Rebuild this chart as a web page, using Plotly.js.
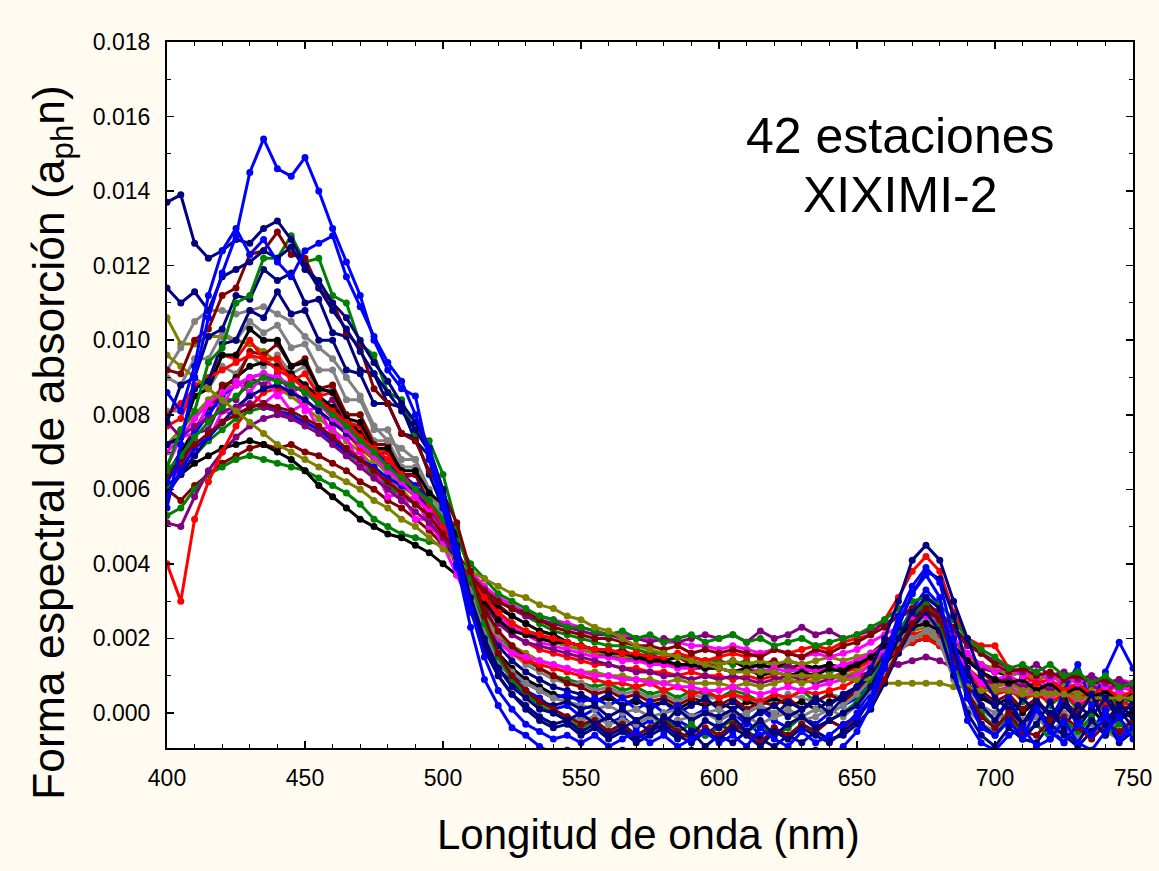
<!DOCTYPE html>
<html>
<head>
<meta charset="utf-8">
<script src="https://cdn.plot.ly/plotly-3.0.1.min.js"></script>
<style>html,body{margin:0;padding:0;background:#FFFBF0;}#chart{width:1159px;height:871px;}</style>
</head>
<body>
<div id="chart"></div>
<script>
// Wavelength grid (nm)
const wavelength = [400,405,410,415,420,425,430,435,440,445,450,455,460,465,470,475,480,485,490,495,500,505,510,515,520,525,530,535,540,545,550,555,560,565,570,575,580,585,590,595,600,605,610,615,620,625,630,635,640,645,650,655,660,665,670,675,680,685,690,695,700,705,710,715,720,725,730,735,740,745,750];

// Spectral shapes of absorption (a_ph n), one array per station
const b1 = [.0055,.0072,.0090,.0106,.0118,.0128,.0145,.0154,.0146,.0144, .0149,.0140,.0130,.0121,.0112,.0100,.0092,.0087,.0085,.0068, .0055,.0040,.0023,.0009,.0002,-.0004,-.0006,-.0009,-.0011,-.0010, -.0012,-.0011,-.0013,-.0010,-.0012,-.0011,-.0013,-.0012,-.0010,-.0012, -.0011,-.0013,-.0010,-.0012,-.0011,-.0013,-.0012,-.0010,-.0012,-.0009, -.0005,.0002,.0012,.0024,.0032,.0037,.0031,.0012,-.0002,-.0008, -.0010,-.0006,-.0004,-.0009,-.0007,-.0002,-.0008,-.0010,-.0005,-.0001, -.0007];
const b2 = [.0086,.0081,.0093,.0112,.0124,.0130,.0123,.0127,.0121,.0117, .0124,.0126,.0128,.0117,.0109,.0101,.0094,.0089,.0080,.0071, .0058,.0044,.0028,.0015,.0006,.0001,-.0003,-.0005,-.0007,-.0006, -.0008,-.0006,-.0009,-.0007,-.0005,-.0008,-.0006,-.0009,-.0007,-.0005, -.0008,-.0006,-.0009,-.0004,-.0007,-.0009,-.0005,-.0008,-.0006,-.0003, -.0001,.0004,.0015,.0026,.0034,.0039,.0035,.0020,.0004,-.0004, -.0006,-.0002,-.0007,.0001,-.0005,-.0008,-.0003,-.0006,-.0001,-.0007, -.0004];
const b3 = [.0062,.0068,.0075,.0080,.0085,.0088,.0090,.0091,.0089,.0088, .0086,.0083,.0080,.0077,.0073,.0070,.0067,.0064,.0061,.0057, .0050,.0039,.0027,.0019,.0013,.0010,.0008,.0006,.0004,.0005, .0003,.0004,.0002,.0004,.0001,.0003,.0000,.0002,-.0001,.0001, -.0002,.0000,-.0003,.0001,-.0002,-.0004,-.0001,-.0003,.0000,.0002, .0004,.0008,.0014,.0021,.0028,.0033,.0029,.0018,.0008,.0002, -.0002,.0004,-.0003,.0002,-.0004,.0006,.0013,.0002,.0011,.0019, .0012];
const b4 = [.0058,.0065,.0071,.0074,.0078,.0080,.0082,.0083,.0081,.0080, .0078,.0076,.0073,.0070,.0068,.0066,.0063,.0061,.0059,.0056, .0049,.0040,.0030,.0022,.0015,.0010,.0006,.0004,.0001,.0002, -.0001,.0001,-.0003,-.0001,-.0004,-.0002,-.0005,-.0002,-.0004,-.0006, -.0003,-.0005,-.0002,-.0006,-.0004,-.0007,-.0003,-.0005,-.0002,-.0004, .0000,.0006,.0013,.0021,.0027,.0030,.0026,.0014,.0004,-.0003, -.0005,-.0001,-.0006,.0002,-.0004,-.0008,-.0002,-.0005,.0001,-.0006, -.0003];
const n1 = [.0137,.0139,.0126,.0122,.0124,.0127,.0126,.0130,.0132,.0127, .0120,.0114,.0108,.0103,.0097,.0091,.0086,.0081,.0076,.0070, .0058,.0043,.0029,.0018,.0010,.0005,.0002,-.0001,-.0003,-.0002, -.0005,-.0003,-.0006,-.0004,-.0007,-.0005,-.0003,-.0006,-.0008,-.0005, -.0007,-.0004,-.0006,-.0009,-.0005,-.0007,-.0004,-.0006,-.0008,-.0005, -.0002,.0004,.0012,.0020,.0027,.0031,.0028,.0017,.0005,-.0003, -.0006,-.0002,-.0007,-.0003,.0003,-.0005,-.0008,-.0002,-.0006,.0001, -.0004];
const n2 = [.0114,.0110,.0113,.0108,.0117,.0119,.0121,.0124,.0122,.0125, .0119,.0116,.0110,.0106,.0100,.0094,.0089,.0083,.0078,.0071, .0060,.0045,.0031,.0020,.0012,.0007,.0004,.0001,.0000,-.0002, .0000,-.0003,-.0001,-.0004,-.0002,-.0005,-.0001,-.0003,-.0006,-.0002, -.0004,-.0001,-.0005,-.0002,-.0006,-.0003,-.0001,-.0004,-.0002,.0000, .0002,.0007,.0014,.0023,.0032,.0038,.0036,.0026,.0012,.0002, -.0002,.0003,-.0003,.0001,-.0004,.0002,-.0001,.0005,-.0003,.0002, -.0001];
const n3 = [.0078,.0088,.0090,.0101,.0103,.0112,.0111,.0119,.0116,.0118, .0110,.0111,.0102,.0101,.0092,.0091,.0083,.0082,.0073,.0069, .0056,.0042,.0028,.0017,.0010,.0005,.0001,-.0002,-.0004,-.0003, -.0006,-.0004,-.0007,-.0005,-.0008,-.0006,-.0004,-.0007,-.0005,-.0009, -.0006,-.0008,-.0005,-.0007,-.0009,-.0006,-.0008,-.0005,-.0007,-.0006, -.0003,.0001,.0008,.0016,.0023,.0027,.0022,.0010,.0000,-.0006, -.0009,-.0004,-.0007,-.0008,-.0003,-.0006,-.0009,-.0005,-.0002,-.0008, -.0005];
const n4 = [.0072,.0074,.0087,.0089,.0099,.0100,.0108,.0106,.0113,.0107, .0108,.0100,.0100,.0092,.0091,.0083,.0083,.0075,.0074,.0064, .0055,.0042,.0029,.0019,.0012,.0008,.0005,.0003,.0002,.0003, .0001,.0002,-.0001,.0001,-.0002,.0000,-.0003,.0001,-.0002,.0000, -.0001,.0001,-.0002,.0000,.0002,-.0001,.0001,.0003,.0000,.0004, .0007,.0012,.0020,.0030,.0041,.0045,.0041,.0030,.0020,.0010, .0004,.0001,-.0003,.0003,.0000,-.0004,.0002,-.0001,.0004,-.0002, .0001];
const n5 = [.0059,.0064,.0069,.0074,.0078,.0082,.0085,.0087,.0088,.0086, .0084,.0081,.0078,.0075,.0072,.0069,.0066,.0063,.0059,.0055, .0048,.0040,.0031,.0024,.0018,.0014,.0011,.0009,.0007,.0006, .0005,.0003,.0005,.0002,.0004,.0001,.0003,.0000,.0002,.0004, .0001,.0003,.0000,.0002,-.0001,.0003,.0001,.0004,.0002,.0005, .0007,.0010,.0015,.0020,.0025,.0028,.0025,.0017,.0010,.0005, .0002,-.0003,.0004,.0000,-.0002,.0005,-.0004,.0001,.0006,-.0001, .0003];
const dr1 = [.0092,.0091,.0100,.0103,.0112,.0114,.0123,.0124,.0129,.0123, .0122,.0114,.0110,.0102,.0098,.0087,.0083,.0075,.0073,.0065, .0059,.0051,.0038,.0026,.0016,.0010,.0006,.0003,.0001,-.0001, -.0003,-.0002,-.0005,-.0003,-.0006,-.0004,-.0002,-.0005,-.0007,-.0004, -.0006,-.0003,-.0005,-.0008,-.0004,-.0006,-.0003,-.0005,-.0002,-.0004, -.0001,.0003,.0009,.0017,.0024,.0028,.0025,.0015,.0006,-.0001, -.0004,.0000,-.0005,-.0006,-.0002,-.0001,-.0004,-.0007,-.0003,-.0005, -.0002];
const dr2 = [.0064,.0066,.0077,.0079,.0088,.0089,.0097,.0096,.0099,.0093, .0095,.0087,.0088,.0080,.0080,.0072,.0072,.0064,.0064,.0056, .0051,.0043,.0035,.0028,.0022,.0018,.0015,.0012,.0010,.0008, .0007,.0005,.0006,.0004,.0005,.0003,.0004,.0002,.0004,.0003, .0002,.0004,.0001,.0003,.0002,.0004,.0001,.0003,.0005,.0003, .0006,.0010,.0016,.0022,.0027,.0029,.0026,.0018,.0011,.0006, .0003,.0005,.0001,.0004,-.0001,.0003,.0000,.0004,-.0002,.0002, .0001];
const dr3 = [.0064,.0068,.0072,.0075,.0078,.0080,.0082,.0083,.0082,.0081, .0079,.0077,.0074,.0071,.0068,.0065,.0062,.0059,.0056,.0053, .0048,.0043,.0037,.0033,.0030,.0028,.0027,.0025,.0023,.0022, .0021,.0020,.0020,.0019,.0018,.0018,.0017,.0018,.0016,.0017, .0016,.0017,.0016,.0015,.0017,.0016,.0015,.0017,.0016,.0018, .0019,.0021,.0023,.0026,.0028,.0029,.0027,.0023,.0019,.0016, .0013,.0011,.0012,.0010,.0011,.0009,.0010,.0008,.0009,.0007, .0008];
const dr4 = [.0060,.0057,.0061,.0064,.0067,.0069,.0071,.0072,.0071,.0072, .0070,.0069,.0067,.0065,.0062,.0060,.0057,.0055,.0052,.0049, .0045,.0041,.0036,.0032,.0029,.0026,.0024,.0022,.0021,.0019, .0018,.0017,.0016,.0017,.0015,.0016,.0014,.0015,.0013,.0014, .0013,.0014,.0012,.0013,.0014,.0012,.0013,.0011,.0013,.0012, .0014,.0016,.0019,.0022,.0025,.0027,.0025,.0020,.0015,.0011, .0008,.0010,.0006,.0008,.0004,.0007,.0003,.0006,.0002,.0005, .0003];
const g1 = [.0066,.0076,.0081,.0094,.0098,.0110,.0112,.0122,.0122,.0128, .0121,.0122,.0112,.0110,.0099,.0096,.0086,.0084,.0075,.0073, .0064,.0050,.0036,.0024,.0015,.0009,.0005,.0002,.0000,-.0002, -.0004,-.0002,-.0005,-.0003,-.0006,-.0004,-.0001,-.0005,-.0003,-.0006, -.0004,-.0002,-.0005,-.0003,-.0006,-.0004,-.0001,-.0004,-.0002,.0000, .0003,.0008,.0015,.0022,.0027,.0029,.0024,.0014,.0005,.0000, -.0004,-.0001,-.0006,-.0003,-.0007,-.0002,-.0005,-.0001,-.0006,-.0003, -.0005];
const g2 = [.0065,.0069,.0074,.0078,.0082,.0085,.0088,.0090,.0089,.0088, .0086,.0083,.0080,.0077,.0073,.0070,.0066,.0063,.0060,.0057, .0052,.0046,.0040,.0036,.0032,.0030,.0028,.0026,.0025,.0023, .0023,.0022,.0021,.0022,.0020,.0021,.0019,.0020,.0021,.0019, .0020,.0021,.0019,.0020,.0018,.0019,.0020,.0018,.0019,.0020, .0021,.0023,.0025,.0028,.0030,.0031,.0029,.0025,.0020,.0017, .0015,.0012,.0013,.0011,.0013,.0010,.0011,.0008,.0010,.0007, .0008];
const g3 = [.0053,.0055,.0060,.0064,.0066,.0068,.0069,.0068,.0067,.0066, .0065,.0063,.0061,.0059,.0056,.0052,.0050,.0048,.0047,.0046, .0045,.0041,.0037,.0033,.0030,.0028,.0026,.0024,.0022,.0021, .0020,.0019,.0018,.0018,.0017,.0016,.0016,.0015,.0015,.0014, .0014,.0013,.0014,.0012,.0013,.0012,.0011,.0012,.0011,.0012, .0013,.0015,.0018,.0021,.0024,.0025,.0023,.0018,.0014,.0011, .0009,.0007,.0008,.0005,.0007,.0004,.0006,.0003,.0005,.0002, .0004];
const g4 = [.0060,.0064,.0069,.0073,.0076,.0079,.0081,.0082,.0081,.0080, .0078,.0076,.0073,.0070,.0067,.0064,.0061,.0058,.0056,.0053, .0048,.0041,.0034,.0027,.0021,.0017,.0014,.0012,.0010,.0009, .0008,.0007,.0008,.0006,.0007,.0005,.0006,.0004,.0006,.0005, .0004,.0006,.0005,.0003,.0005,.0004,.0006,.0003,.0005,.0004, .0007,.0011,.0016,.0022,.0026,.0028,.0025,.0018,.0012,.0008, .0005,.0007,.0003,.0006,.0002,.0005,.0001,.0004,.0000,.0003, .0002];
const gr1 = [.0092,.0098,.0105,.0108,.0108,.0107,.0108,.0109,.0107,.0105, .0101,.0098,.0095,.0090,.0085,.0077,.0073,.0071,.0068,.0060, .0054,.0044,.0032,.0022,.0015,.0011,.0008,.0006,.0004,.0003, .0002,.0001,.0002,.0000,.0001,-.0001,.0000,.0001,-.0001,.0000, .0001,-.0001,.0000,.0002,.0000,.0001,-.0001,.0001,.0000,.0002, .0005,.0009,.0014,.0019,.0023,.0024,.0019,.0009,.0001,-.0003, -.0005,-.0002,-.0006,-.0003,-.0007,-.0004,-.0006,-.0002,-.0005,-.0007, -.0004];
const gr2 = [.0090,.0088,.0095,.0095,.0102,.0100,.0105,.0102,.0104,.0098, .0099,.0092,.0092,.0084,.0084,.0076,.0076,.0068,.0068,.0059, .0053,.0043,.0031,.0021,.0014,.0009,.0005,.0002,.0000,-.0001, -.0002,-.0001,-.0003,-.0002,-.0003,-.0001,-.0003,-.0002,-.0001,.0000, -.0002,.0000,-.0001,-.0003,-.0001,.0000,-.0002,-.0001,.0001,-.0001, .0002,.0006,.0011,.0016,.0020,.0022,.0019,.0012,.0005,.0001, -.0002,.0000,-.0004,-.0001,-.0005,-.0002,-.0006,-.0003,-.0005,-.0002, -.0004];
const gr3 = [.0081,.0081,.0088,.0087,.0093,.0091,.0096,.0093,.0096,.0091, .0093,.0086,.0087,.0080,.0080,.0073,.0073,.0066,.0066,.0057, .0052,.0043,.0034,.0026,.0020,.0016,.0013,.0011,.0009,.0008, .0008,.0006,.0007,.0005,.0006,.0004,.0005,.0003,.0005,.0004, .0004,.0005,.0003,.0004,.0003,.0005,.0004,.0003,.0005,.0004, .0006,.0010,.0015,.0020,.0024,.0025,.0022,.0014,.0007,.0002, .0000,.0002,-.0002,.0001,-.0003,.0000,-.0002,.0001,-.0003,.0000, -.0001];
const k1 = [.0072,.0074,.0085,.0087,.0096,.0096,.0103,.0100,.0100,.0093, .0094,.0087,.0086,.0079,.0078,.0071,.0071,.0065,.0065,.0059, .0056,.0048,.0038,.0030,.0025,.0022,.0021,.0020,.0019,.0019, .0018,.0017,.0016,.0016,.0015,.0014,.0014,.0013,.0013,.0012, .0012,.0011,.0012,.0010,.0011,.0010,.0011,.0010,.0012,.0011, .0013,.0015,.0018,.0021,.0023,.0024,.0022,.0018,.0014,.0011, .0009,.0008,.0009,.0006,.0008,.0005,.0007,.0004,.0006,.0003, .0005];
const k2 = [.0064,.0070,.0076,.0082,.0087,.0090,.0093,.0094,.0093,.0091, .0088,.0085,.0082,.0079,.0075,.0071,.0067,.0064,.0060,.0056, .0049,.0040,.0030,.0022,.0016,.0012,.0009,.0007,.0005,.0004, .0004,.0003,.0004,.0002,.0003,.0002,.0003,.0001,.0003,.0002, .0003,.0001,.0003,.0002,.0004,.0002,.0003,.0001,.0003,.0004, .0006,.0009,.0013,.0017,.0019,.0020,.0018,.0013,.0008,.0004, .0002,.0004,.0000,.0003,-.0001,.0002,-.0002,.0001,-.0003,.0000, -.0001];
const k3 = [.0061,.0064,.0067,.0069,.0071,.0072,.0073,.0072,.0070,.0068, .0065,.0061,.0058,.0055,.0052,.0050,.0048,.0047,.0045,.0043, .0040,.0037,.0034,.0031,.0028,.0026,.0024,.0022,.0021,.0019, .0018,.0017,.0016,.0016,.0015,.0015,.0014,.0015,.0014,.0013, .0013,.0014,.0012,.0013,.0012,.0014,.0013,.0012,.0013,.0012, .0013,.0014,.0016,.0018,.0019,.0020,.0019,.0017,.0015,.0013, .0011,.0010,.0011,.0009,.0010,.0008,.0009,.0007,.0009,.0006, .0008];
const r1 = [.0077,.0079,.0088,.0089,.0096,.0095,.0100,.0095,.0095,.0089, .0091,.0085,.0086,.0078,.0077,.0071,.0070,.0061,.0059,.0053, .0048,.0039,.0030,.0024,.0019,.0016,.0014,.0013,.0012,.0011, .0010,.0009,.0008,.0008,.0007,.0008,.0006,.0007,.0005,.0006, .0004,.0005,.0004,.0003,.0005,.0004,.0006,.0005,.0006,.0007, .0009,.0011,.0014,.0017,.0019,.0020,.0018,.0014,.0010,.0007, .0005,.0006,.0004,.0005,.0003,.0005,.0002,.0004,.0001,.0003, .0002];
const r2 = [.0040,.0030,.0052,.0062,.0070,.0077,.0082,.0086,.0087,.0086, .0084,.0081,.0078,.0075,.0071,.0068,.0065,.0062,.0058,.0055, .0049,.0043,.0036,.0030,.0025,.0021,.0019,.0017,.0016,.0015, .0014,.0013,.0013,.0012,.0012,.0011,.0011,.0010,.0011,.0010, .0010,.0009,.0010,.0009,.0010,.0008,.0009,.0010,.0009,.0011, .0012,.0014,.0016,.0019,.0021,.0022,.0020,.0016,.0012,.0009, .0007,.0008,.0006,.0007,.0005,.0006,.0004,.0006,.0003,.0005, .0004];
const r3 = [.0080,.0083,.0087,.0090,.0092,.0094,.0096,.0095,.0092,.0090, .0087,.0084,.0081,.0078,.0074,.0071,.0068,.0064,.0060,.0056, .0050,.0043,.0036,.0031,.0027,.0024,.0022,.0021,.0020,.0019, .0018,.0017,.0017,.0016,.0016,.0015,.0015,.0016,.0015,.0014, .0015,.0016,.0015,.0016,.0017,.0016,.0017,.0018,.0017,.0019, .0020,.0021,.0025,.0031,.0038,.0042,.0038,.0027,.0020,.0018, .0018,.0012,.0010,.0008,.0009,.0006,.0008,.0005,.0007,.0004, .0006];
const m1 = [.0070,.0074,.0079,.0083,.0086,.0088,.0090,.0091,.0090,.0088, .0086,.0083,.0079,.0076,.0072,.0069,.0065,.0062,.0058,.0054, .0048,.0042,.0038,.0034,.0031,.0029,.0027,.0026,.0025,.0024, .0023,.0022,.0021,.0021,.0020,.0020,.0019,.0019,.0018,.0018, .0017,.0018,.0017,.0016,.0017,.0016,.0015,.0016,.0015,.0016, .0017,.0019,.0021,.0023,.0025,.0026,.0024,.0020,.0016,.0013, .0011,.0012,.0010,.0011,.0009,.0010,.0008,.0010,.0007,.0009, .0008];
const m2 = [.0066,.0074,.0075,.0083,.0082,.0089,.0086,.0091,.0085,.0088, .0081,.0082,.0074,.0074,.0066,.0066,.0058,.0059,.0052,.0052, .0045,.0037,.0029,.0023,.0019,.0016,.0015,.0014,.0013,.0012, .0011,.0010,.0010,.0009,.0009,.0008,.0008,.0007,.0007,.0006, .0006,.0007,.0006,.0005,.0006,.0007,.0006,.0007,.0008,.0009, .0010,.0013,.0017,.0021,.0023,.0024,.0022,.0017,.0012,.0008, .0006,.0007,.0005,.0006,.0004,.0006,.0003,.0005,.0004,.0006, .0004];
const m3 = [.0064,.0064,.0073,.0073,.0081,.0080,.0086,.0083,.0086,.0081, .0083,.0076,.0077,.0069,.0070,.0063,.0064,.0057,.0058,.0050, .0047,.0041,.0035,.0030,.0026,.0023,.0021,.0019,.0018,.0017, .0016,.0015,.0015,.0014,.0014,.0013,.0013,.0012,.0012,.0013, .0012,.0011,.0012,.0011,.0012,.0011,.0012,.0011,.0012,.0013, .0014,.0016,.0018,.0021,.0023,.0024,.0022,.0018,.0014,.0011, .0009,.0010,.0008,.0009,.0007,.0009,.0006,.0008,.0006,.0007, .0006];
const p1 = [.0064,.0065,.0075,.0076,.0084,.0084,.0090,.0088,.0091,.0086, .0088,.0082,.0084,.0077,.0077,.0069,.0070,.0063,.0064,.0056, .0051,.0043,.0035,.0029,.0024,.0021,.0019,.0018,.0017,.0016, .0015,.0014,.0013,.0012,.0011,.0011,.0010,.0010,.0009,.0010, .0009,.0010,.0009,.0008,.0009,.0010,.0009,.0008,.0009,.0010, .0010,.0011,.0012,.0013,.0014,.0015,.0014,.0012,.0010,.0009, .0008,.0009,.0007,.0008,.0006,.0008,.0005,.0007,.0006,.0008, .0007];
const p2 = [.0078,.0074,.0077,.0079,.0081,.0082,.0083,.0082,.0081,.0079, .0077,.0075,.0072,.0069,.0066,.0063,.0060,.0057,.0054,.0051, .0047,.0042,.0037,.0033,.0030,.0028,.0026,.0025,.0024,.0023, .0022,.0021,.0021,.0020,.0020,.0019,.0020,.0019,.0020,.0021, .0020,.0021,.0019,.0022,.0020,.0021,.0023,.0021,.0022,.0020, .0021,.0022,.0024,.0026,.0027,.0028,.0026,.0022,.0018,.0016, .0014,.0012,.0011,.0013,.0010,.0011,.0009,.0010,.0008,.0009, .0007];
const p3 = [.0051,.0050,.0058,.0065,.0070,.0074,.0077,.0079,.0080,.0079, .0078,.0076,.0074,.0071,.0068,.0065,.0062,.0059,.0056,.0053, .0048,.0042,.0036,.0031,.0027,.0024,.0022,.0020,.0019,.0018, .0017,.0016,.0015,.0015,.0014,.0014,.0013,.0013,.0012,.0012, .0012,.0011,.0012,.0011,.0012,.0013,.0011,.0012,.0013,.0012, .0013,.0014,.0016,.0018,.0019,.0020,.0019,.0016,.0014,.0012, .0011,.0012,.0010,.0011,.0009,.0010,.0008,.0009,.0007,.0008, .0007];
const o1 = [.0096,.0093,.0090,.0087,.0084,.0081,.0078,.0075,.0072,.0070, .0068,.0066,.0064,.0062,.0060,.0057,.0055,.0052,.0050,.0047, .0044,.0041,.0038,.0036,.0034,.0032,.0031,.0029,.0028,.0026, .0025,.0023,.0022,.0020,.0018,.0017,.0016,.0015,.0014,.0013, .0012,.0011,.0011,.0011,.0011,.0010,.0010,.0010,.0010,.0009, .0009,.0009,.0008,.0008,.0008,.0008,.0008,.0007,.0007,.0006, .0006,.0006,.0005,.0005,.0005,.0005,.0004,.0004,.0004,.0004, .0004];
const o2 = [.0106,.0099,.0099,.0101,.0101,.0100,.0099,.0097,.0094,.0091, .0088,.0084,.0080,.0076,.0072,.0068,.0064,.0061,.0058,.0054, .0047,.0040,.0032,.0026,.0021,.0018,.0016,.0014,.0013,.0012, .0011,.0011,.0010,.0010,.0009,.0009,.0008,.0009,.0008,.0008, .0008,.0007,.0008,.0007,.0008,.0009,.0008,.0009,.0010,.0010, .0011,.0013,.0015,.0018,.0020,.0021,.0019,.0015,.0011,.0008, .0007,.0008,.0006,.0007,.0005,.0007,.0005,.0006,.0004,.0005, .0004];
const o3 = [.0072,.0076,.0080,.0084,.0087,.0088,.0089,.0088,.0087,.0085, .0082,.0079,.0076,.0073,.0070,.0066,.0063,.0060,.0056,.0053, .0047,.0041,.0035,.0030,.0027,.0024,.0022,.0021,.0019,.0018, .0017,.0016,.0016,.0015,.0015,.0014,.0014,.0013,.0013,.0014, .0013,.0014,.0013,.0014,.0013,.0014,.0013,.0014,.0015,.0014, .0015,.0016,.0018,.0020,.0022,.0023,.0021,.0018,.0015,.0013, .0012,.0010,.0011,.0009,.0010,.0008,.0009,.0007,.0008,.0007, .0006];

// Drawing order (first drawn at the bottom) and line colours
const stations = [dr4,g3,p3,k3,o3,m3,r2,p1,g4,o2,gr3,k2,dr2,r1,m2,n5,b4,b3,gr2,gr1,k1,r3,m1,p2,dr3,g2,o1,n3,n4,g1,dr1,n2,n1,b2,b1];
const stationColors = ['#800000','#008000','#800080','#000000','#808000','#FF00FF','#FF0000','#800080','#008000','#808000','#808080','#000000','#800000','#FF0000','#FF00FF','#000080','#0000FF','#0000FF','#808080','#808080','#000000','#FF0000','#FF00FF','#800080','#800000','#008000','#808000','#000080','#000080','#008000','#800000','#000080','#000080','#0000FF','#0000FF'];

const FONT = 'Arial, "Liberation Sans", sans-serif';

const traces = stations.map((ys, i) => ({
  type: 'scatter',
  mode: 'lines+markers',
  x: wavelength,
  y: ys,
  line: {color: stationColors[i], width: 3},
  marker: {color: stationColors[i], size: 7},
  showlegend: false,
  hoverinfo: 'x+y'
}));

const axisCommon = {
  showgrid: false,
  zeroline: false,
  showline: true,
  linecolor: '#000',
  linewidth: 2,
  mirror: 'allticks',
  ticks: 'inside',
  ticklen: 7,
  tickwidth: 1.5,
  tickcolor: '#000',
  tickfont: {family: FONT, size: 23, color: '#000'}
};

const layout = {
  width: 1159,
  height: 871,
  paper_bgcolor: '#FFFBF0',
  plot_bgcolor: '#FFFFFF',
  margin: {l: 167, r: 26, t: 42, b: 123, pad: 0},
  showlegend: false,
  xaxis: Object.assign({}, axisCommon, {
    range: [400, 750],
    tick0: 400,
    dtick: 50,
    ticklabelstandoff: 8,
    minor: {dtick: 10, ticks: 'inside', ticklen: 4, tickwidth: 1, tickcolor: '#000', showgrid: false}
  }),
  yaxis: Object.assign({}, axisCommon, {
    range: [-0.00094, 0.018],
    tick0: 0,
    dtick: 0.002,
    tickformat: '.3f',
    ticklabelstandoff: 10,
    minor: {dtick: 0.001, ticks: 'inside', ticklen: 4, tickwidth: 1, tickcolor: '#000', showgrid: false}
  }),
  annotations: [
    {text: '42 estaciones', xref: 'paper', yref: 'paper', x: 0.759, y: (748 - 136) / 706, xanchor: 'center', yanchor: 'middle', showarrow: false, font: {family: FONT, size: 50, color: '#000'}},
    {text: 'XIXIMI-2', xref: 'paper', yref: 'paper', x: 0.759, y: (748 - 195) / 706, xanchor: 'center', yanchor: 'middle', showarrow: false, font: {family: FONT, size: 50, color: '#000'}},
    {text: 'Longitud de onda (nm)', xref: 'paper', yref: 'paper', x: 0.498, y: (748 - 834) / 706, xanchor: 'center', yanchor: 'middle', showarrow: false, font: {family: FONT, size: 42, color: '#000'}},
    {text: 'Forma espectral de absorción (a<sub>ph</sub>n)', xref: 'paper', yref: 'paper', x: (52 - 167) / 966, y: (748 - 443) / 706, xanchor: 'center', yanchor: 'middle', textangle: -90, showarrow: false, font: {family: FONT, size: 44.5, color: '#000'}}
  ]
};

Plotly.newPlot('chart', traces, layout, {displayModeBar: false, staticPlot: true});
</script>
</body>
</html>
